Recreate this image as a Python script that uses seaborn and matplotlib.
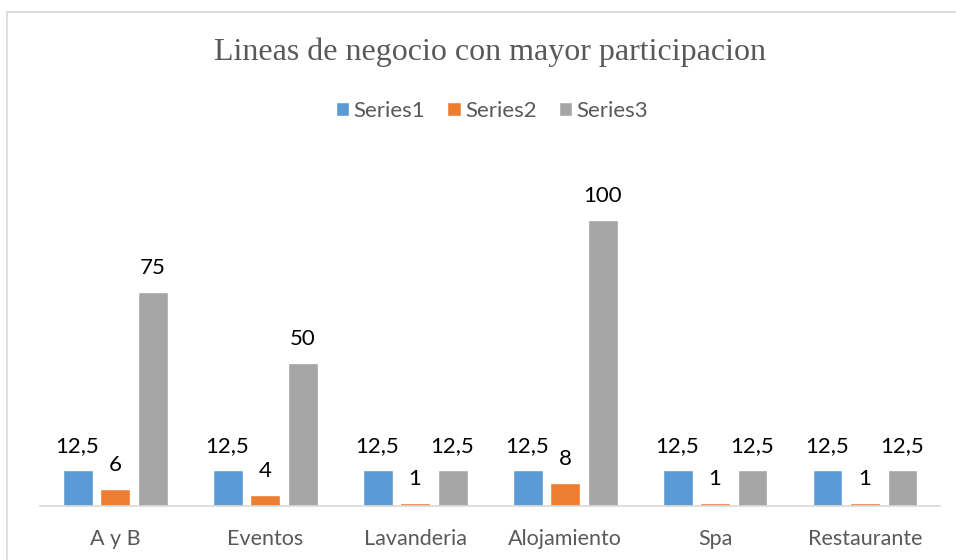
import pandas as pd
import matplotlib.pyplot as plt
import seaborn as sns

categorias = ["A y B", "Eventos", "Lavanderia", "Alojamiento", "Spa", "Restaurante"]
series1 = [12.5, 12.5, 12.5, 12.5, 12.5, 12.5]
series2 = [6, 4, 1, 8, 1, 1]
series3 = [75, 50, 12.5, 100, 12.5, 12.5]
series_names = ["Series1", "Series2", "Series3"]
colores = ["#5B9BD5", "#ED7D31", "#A5A5A5"]

rows = []
for nombre, valores in zip(series_names, [series1, series2, series3]):
    for cat, v in zip(categorias, valores):
        rows.append({"Linea": cat, "Valor": v, "Serie": nombre})
df = pd.DataFrame(rows)

sns.set_theme(style="white")
plt.rcParams["font.family"] = ["Lato", "DejaVu Sans"]

fig = plt.figure(figsize=(9.56, 5.6), dpi=100)
ax = fig.add_axes([40 / 956, 54 / 560, 900 / 956, 356 / 560])

sns.barplot(data=df, x="Linea", y="Valor", hue="Serie", palette=colores,
            saturation=1, width=0.75, gap=0.2, ax=ax, legend=True)

ax.set_ylim(0, 356 / 2.86)
ax.set_xlim(-0.5, len(categorias) - 0.5)

# etiquetas con coma decimal
for cont, valores in zip(ax.containers, [series1, series2, series3]):
    etiquetas = [("%g" % v).replace(".", ",") for v in valores]
    ax.bar_label(cont, labels=etiquetas, padding=10, fontsize=16, color="black")

ax.set_xlabel("")
ax.set_ylabel("")
ax.set_yticks([])
ax.tick_params(axis="x", length=0, pad=16.5, labelsize=15.5, labelcolor="#595959")
for s in ["top", "right", "left"]:
    ax.spines[s].set_visible(False)
ax.spines["bottom"].set_color("#D9D9D9")
ax.spines["bottom"].set_linewidth(1.2)

ax.legend_.remove()
handles, labels = ax.get_legend_handles_labels()
fig.legend(handles, labels, loc="center", bbox_to_anchor=(492 / 956, 1 - 111 / 560),
           ncol=3, frameon=False, fontsize=16, labelcolor="#595959",
           handlelength=0.6, handleheight=0.6, handletextpad=0.2, columnspacing=1.0)

fig.text(490 / 956, 1 - 52 / 560, "Lineas de negocio con mayor participacion",
         ha="center", va="center", fontsize=23, color="#595959",
         family=["Liberation Serif", "DejaVu Serif"])

# marco del grafico
marco = plt.Rectangle((7 / 956, -0.01), 1.0, 1 - 12 / 560 + 0.01, transform=fig.transFigure,
                      fill=False, edgecolor="#D9D9D9", linewidth=1.2)
fig.patches.append(marco)

fig.savefig("out.png", dpi=100)
